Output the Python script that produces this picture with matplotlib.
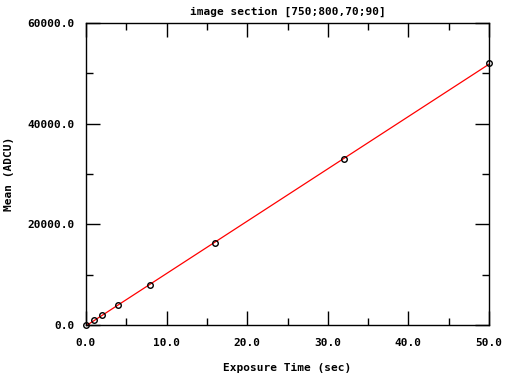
import matplotlib as mpl
import matplotlib.pyplot as plt
import numpy as np
from matplotlib.ticker import MultipleLocator, FormatStrFormatter

exposure = [0, 1, 2, 4, 8, 16, 32, 50]
mean_adu = [0, 1000, 2000, 3950, 8000, 16250, 32950, 52000]

mpl.rcParams.update({
    "font.family": "DejaVu Sans Mono",
    "font.size": 8,
    "font.weight": "bold",
})

fig = plt.figure(figsize=(5.18, 3.76), dpi=100)
ax = fig.add_axes([86 / 518, 51 / 376, 403 / 518, 302 / 376])

slope, intercept = np.polyfit(exposure, mean_adu, 1)
xfit = np.array([min(exposure), max(exposure)])
ax.plot(xfit, slope * xfit + intercept, color="red", linewidth=0.9, zorder=2)
ax.plot(exposure, mean_adu, linestyle="none", marker="o", markersize=4,
        markerfacecolor="none", markeredgecolor="black", markeredgewidth=1.0,
        zorder=3, clip_on=False)

ax.set_xlim(0, 50)
ax.set_ylim(0, 60000)
ax.xaxis.set_major_locator(MultipleLocator(10))
ax.xaxis.set_minor_locator(MultipleLocator(5))
ax.yaxis.set_major_locator(MultipleLocator(20000))
ax.yaxis.set_minor_locator(MultipleLocator(10000))
ax.xaxis.set_major_formatter(FormatStrFormatter("%.1f"))
ax.yaxis.set_major_formatter(FormatStrFormatter("%.1f"))
ax.tick_params(which="both", direction="in", top=True, right=True, width=1.0)
ax.tick_params(which="major", length=10)
ax.tick_params(which="minor", length=5)
ax.tick_params(axis="x", which="major", pad=9)
ax.tick_params(axis="y", which="major", pad=8)
for spine in ax.spines.values():
    spine.set_linewidth(1.0)

ax.set_title("image section [750;800,70;90]", fontsize=8, fontweight="bold", pad=6)
ax.set_xlabel("Exposure Time (sec)", fontweight="bold", labelpad=11)
ax.set_ylabel("Mean (ADCU)", fontweight="bold", labelpad=10)

fig.savefig("out.png", dpi=100)
